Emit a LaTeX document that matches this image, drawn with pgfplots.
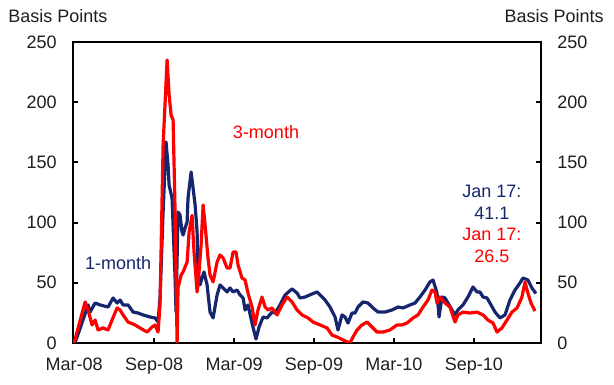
\documentclass[border=0pt]{standalone}
\usepackage{pgfplots}
\pgfplotsset{compat=1.18}
\usepackage{fontspec}
\setmainfont{Liberation Sans}
\newcommand\cf{\fontsize{13.5pt}{16.5pt}\selectfont}
\definecolor{navy}{RGB}{22,38,110}
\definecolor{redline}{RGB}{255,0,0}
\definecolor{txt}{RGB}{30,30,30}

\begin{document}
\begin{tikzpicture}
	\begin{axis}[
		name=main,
		scale only axis,
		clip mode=individual,
		width=351pt, height=225.75pt,
		xmin=-0.08, xmax=35.03,
		ymin=0, ymax=250,
		xtick={0,6,12,18,24,30},
		xticklabels={Mar-08,Sep-08,Mar-09,Sep-09,Mar-10,Sep-10},
		ytick={0,50,100,150,200,250},
		tick pos=both,
		xtick pos=bottom,
		tick align=inside,
		major tick length=4pt,
		tick style={black, line width=1.6pt},
		axis line style={black, line width=1.6pt},
		/pgf/number format/assume math mode=true,
		every tick label/.append style={font=\cf, text=txt},
		yticklabel style={inner sep=0pt, xshift=-12pt},
		xticklabel style={inner sep=0pt, yshift=-11pt},
	]

	% 1-month
	\addplot[color=navy, line width=2.4pt, line join=round] coordinates {
		(0,0) (0.15,2.5) (0.98,29.1) (1.05,31.6) (1.2,25.7) (1.58,33.2) (1.95,31.6)
		(2.55,29.9) (2.93,37.4) (3.23,33.2) (3.45,35.7) (3.68,31.6) (4.05,31.6)
		(4.43,25.7) (4.8,24.9) (5.18,23.3) (5.7,21.6) (6.08,20.8) (6.3,17.4)
		(6.45,37.4) (6.68,108.8) (6.9,167.0) (7.05,147.8) (7.13,131.2) (7.35,120.4)
		(7.58,54.0) (7.65,25.7) (7.8,108.8) (7.95,106.3) (8.1,92.2) (8.18,89.7)
		(8.33,95.5) (8.48,100.5) (8.55,120.4) (8.78,142.0) (8.93,128.7) (9.08,114.6)
		(9.23,92.2) (9.3,59.0) (9.45,48.2) (9.6,54.0) (9.75,59.0) (9.98,48.2)
		(10.2,25.7) (10.43,20.8) (10.73,39.9) (10.95,48.2) (11.18,45.7) (11.48,42.4)
		(11.7,45.7) (11.93,42.4) (12.23,44.0) (12.45,39.9) (12.68,37.4) (12.83,27.4)
		(13.05,31.6) (13.35,16.6) (13.65,3.3) (13.88,13.3) (14.18,21.6) (14.48,20.8)
		(14.85,25.7) (15.08,24.9) (15.45,31.6) (15.83,39.9) (16.35,44.9) (16.73,41.5)
		(16.95,37.4) (17.33,38.2) (17.85,40.7) (18.23,42.4) (18.45,39.9) (18.83,35.7)
		(19.2,29.9) (19.58,21.6) (19.8,10.8) (20.1,23.3) (20.33,21.6) (20.55,16.6)
		(20.85,24.9) (21.08,24.9) (21.3,29.9) (21.68,34.1) (22.05,33.2) (22.43,29.1)
		(22.8,25.7) (23.33,25.7) (23.85,27.4) (24.3,29.9) (24.68,29.1) (25.2,31.6)
		(25.58,33.2) (25.95,38.2) (26.33,44.0) (26.7,50.7) (26.93,52.3) (27.23,41.5)
		(27.38,21.6) (27.6,38.2) (27.83,37.4) (28.05,33.2) (28.35,27.4) (28.58,23.3)
		(28.8,27.4) (29.18,31.6) (29.55,38.2) (29.93,46.5) (30.23,42.4) (30.45,42.4)
		(30.68,38.2) (30.98,37.4) (31.2,33.2) (31.58,25.7) (31.95,20.8) (32.33,23.3)
		(32.7,35.7) (33.08,44.0) (33.45,49.8) (33.68,54.0) (34.05,52.3) (34.35,45.7)
		(34.65,41.1)
	};

	% 3-month
	\addplot[color=redline, line width=2.4pt, line join=round] coordinates {
		(0,0) (0.83,34.1) (1.05,27.4) (1.35,15.0) (1.58,19.1) (1.8,10.8) (2.18,12.5)
		(2.55,10.8) (2.85,19.1) (3.23,29.1) (3.45,27.4) (3.68,23.3) (4.05,17.4)
		(4.58,15.0) (4.95,12.5) (5.48,9.1) (5.85,13.3) (6.08,15.0) (6.3,9.1)
		(6.45,31.6) (6.68,164.5) (6.98,235.1) (7.13,206.0) (7.28,189.4) (7.43,185.2)
		(7.58,108.8) (7.73,0) (7.8,45.7) (8.03,56.5) (8.18,59.0) (8.48,67.3)
		(8.63,92.2) (8.85,106.0) (9.0,75.6) (9.23,42.4) (9.3,48.2) (9.53,81.4)
		(9.68,114.6) (9.83,98.0) (10.05,70.6) (10.2,56.5) (10.43,50.7) (10.73,67.3)
		(10.95,73.1) (11.18,70.6) (11.48,62.3) (11.7,62.3) (11.93,75.6) (12.15,75.6)
		(12.3,64.8) (12.6,54.0) (12.83,52.3) (13.05,41.5) (13.35,29.9) (13.58,15.0)
		(13.8,27.4) (14.1,38.2) (14.33,29.9) (14.55,27.4) (14.85,29.1) (15.23,23.3)
		(15.6,31.6) (15.98,38.2) (16.35,34.1) (16.73,27.4) (17.1,23.3) (17.55,20.8)
		(17.93,17.4) (18.45,15.0) (18.98,12.5) (19.35,6.6) (19.73,5.0) (20.18,2.5)
		(20.7,0) (20.93,5.0) (21.23,10.8) (21.6,15.0) (21.98,17.4) (22.35,13.3)
		(22.73,9.1) (23.18,9.1) (23.7,10.8) (24.23,15.0) (24.6,15.0) (24.98,16.6)
		(25.43,20.8) (25.8,23.3) (26.18,29.9) (26.55,35.7) (26.85,44.0) (27.08,42.4)
		(27.23,33.2) (27.45,38.2) (27.83,33.2) (28.2,29.9) (28.58,17.4) (28.8,23.3)
		(29.18,25.7) (29.7,24.9) (30.23,25.7) (30.68,23.3) (31.05,19.1) (31.43,16.6)
		(31.73,9.1) (32.1,12.5) (32.48,19.1) (32.85,25.7) (33.23,29.1) (33.6,38.2)
		(33.83,50.7) (33.98,44.0) (34.28,33.2) (34.58,26.5)
	};

	\node[font=\cf, text=redline] at (axis cs:14.4,175.3) {3-month};
	\node[font=\cf, text=navy] at (axis cs:3.3,66.4) {1-month};
	\node[font=\cf, text=navy, align=center] at (axis cs:31.35,117.1) {Jan 17:\\41.1};
	\node[font=\cf, text=redline, align=center] at (axis cs:31.35,81.0) {Jan 17:\\26.5};

	\node[font=\cf, text=txt, anchor=west, inner sep=0pt] at ([shift={(-48.75pt,19.5pt)}]rel axis cs:0,1) {Basis Points};
	\node[font=\cf, text=txt, anchor=east, inner sep=0pt] at ([shift={(47.25pt,19.5pt)}]rel axis cs:1,1) {Basis Points};
	\end{axis}

	\begin{axis}[
		scale only axis,
		width=351pt, height=225.75pt,
		xmin=-0.08, xmax=35.03,
		ymin=0, ymax=250,
		hide x axis,
		axis y line*=right,
		axis line style={draw=none},
		ytick={0,50,100,150,200,250},
		major tick length=0pt,
		/pgf/number format/assume math mode=true,
		every tick label/.append style={font=\cf, text=txt},
		yticklabel style={inner sep=0pt, xshift=12pt, anchor=west},
	]
	\end{axis}

	\pgfresetboundingbox
	\path[use as bounding box] ([shift={(-54.75pt,-31.5pt)}]main.south west) rectangle ++(460.5pt,288.75pt);
\end{tikzpicture}
\end{document}
